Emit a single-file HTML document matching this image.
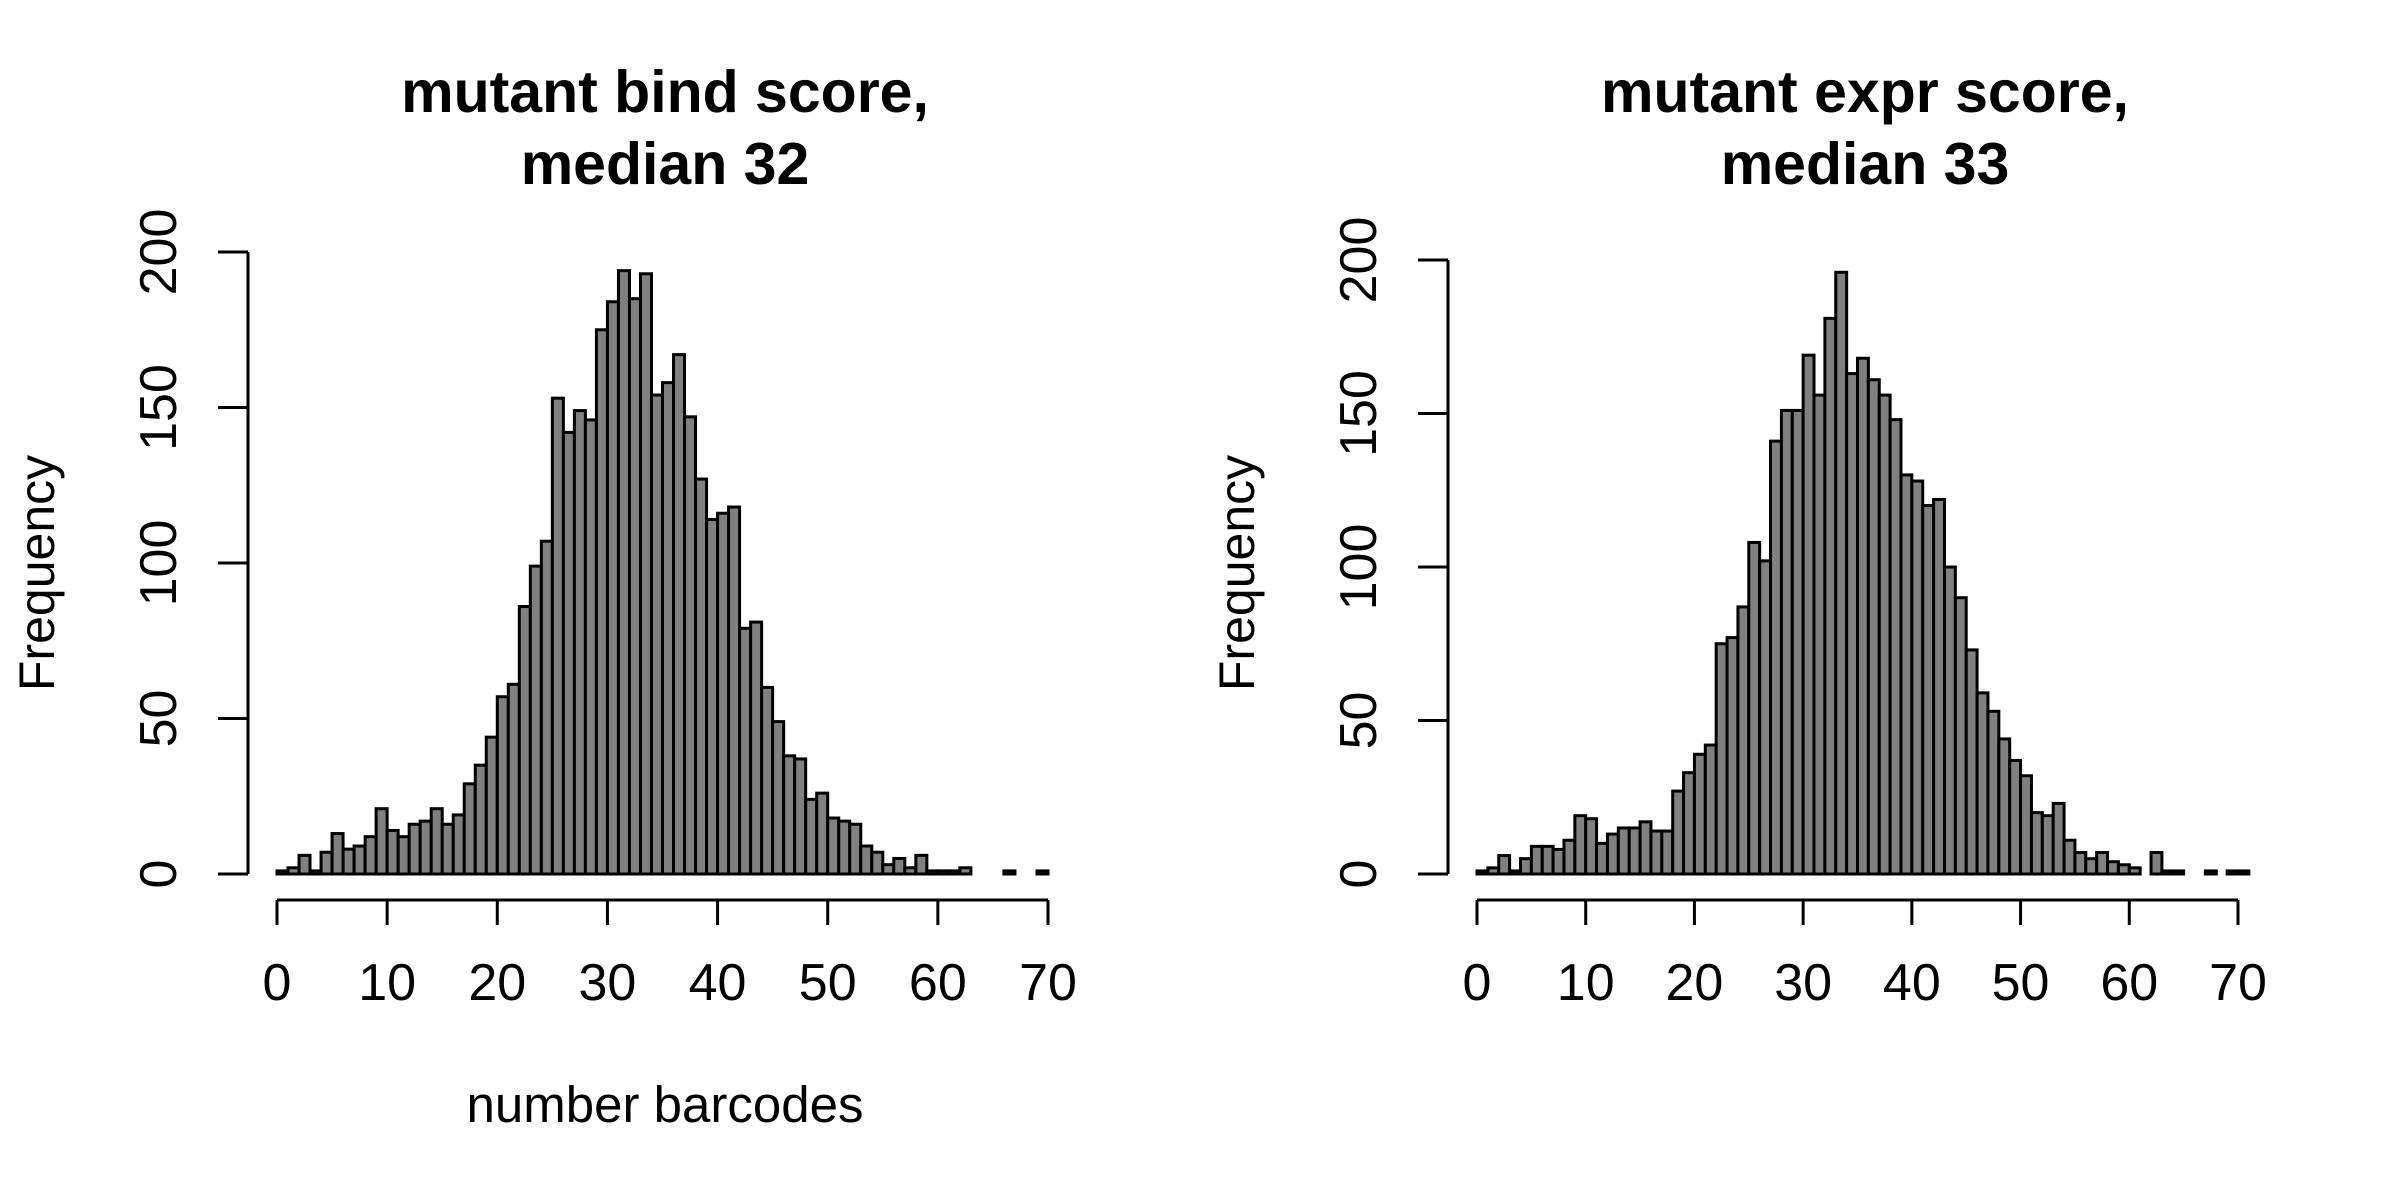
<!DOCTYPE html>
<html><head><meta charset="utf-8"><style>
html,body{margin:0;padding:0;background:#fff;}
svg{display:block;}
text{font-family:"Liberation Sans",Arial,sans-serif;fill:#000;}
</style></head><body>
<svg id="chart" width="2400" height="1200" viewBox="0 0 2400 1200"></svg>
<script>
const bindCounts=[1,2,6,1,7,13,8,9,12,21,14,12,16,17,21,16,19,29,35,44,57,61,86,99,107,153,142,149,146,175,184,194,185,193,154,158,167,147,127,114,116,118,79,81,60,49,38,37,24,26,18,17,16,9,7,3,5,2,6,1,1,1,2,0,0,0,1,0,0,1];
const exprCounts=[1,2,6,1,5,9,9,8,11,19,18,10,13,15,15,17,14,14,27,33,39,42,75,77,87,108,102,141,151,151,169,156,181,196,163,168,161,156,148,130,128,120,122,100,90,73,59,53,44,37,32,20,19,23,11,7,5,7,4,3,2,0,7,1,1,0,0,1,0,1,1];
const xTicks=[0,10,20,30,40,50,60,70];
const yTicks=[0,50,100,150,200];
const titlesLine1=["mutant bind score,","mutant expr score,"];
const titlesLine2=["median 32","median 33"];

const NS="http://www.w3.org/2000/svg";
const svg=document.getElementById('chart');
function mk(tag,attrs,parent){const e=document.createElementNS(NS,tag);for(const k in attrs)e.setAttribute(k,attrs[k]);(parent||svg).appendChild(e);return e;}

const panels=[
 {off:0,counts:bindCounts,xmax:70,y0:874,y200:252,xlab:true,x70:1048},
 {off:1200,counts:exprCounts,xmax:71,y0:874,y200:260,xlab:false,x70:1038}
];
panels.forEach((p,pi)=>{
  const g=mk('g',{});
  
  
  const x0=p.off+277;
  const ux=(p.x70-277)/70;
  const xs=v=>x0+v*ux;
  const ys=v=>p.y0-(p.y0-p.y200)*v/200;
  p.counts.forEach((c,i)=>{
    const r=mk('rect',{x:xs(i),y:ys(c),width:ux,height:p.y0-ys(c),fill:'#808080',stroke:'#000','stroke-width':3},g);
    
    
  });
  const yax=mk('g',{},g);
  
  
  const ax=p.off+248;
  mk('line',{x1:ax,x2:ax,y1:ys(0),y2:ys(200),stroke:'#000','stroke-width':3},yax);
  yTicks.forEach(t=>{
    mk('line',{x1:ax-30,x2:ax,y1:ys(t),y2:ys(t),stroke:'#000','stroke-width':3},yax);
    const tx=mk('text',{x:0,y:0,'font-size':52,'text-anchor':'middle',transform:`translate(${p.off+176},${ys(t)}) rotate(-90)`},yax);
    tx.textContent=t;
    
    
  });
  const xax=mk('g',{},g);
  
  
  mk('line',{x1:xs(0),x2:xs(70),y1:900,y2:900,stroke:'#000','stroke-width':3},xax);
  xTicks.forEach(t=>{
    mk('line',{x1:xs(t),x2:xs(t),y1:900,y2:925,stroke:'#000','stroke-width':3},xax);
    const tx=mk('text',{x:xs(t),y:1000,'font-size':52,'text-anchor':'middle'},xax);
    tx.textContent=t;
    
    
  });
  const t1=mk('text',{x:p.off+665,y:112,'font-size':59,'font-weight':'bold','text-anchor':'middle'},g);
  t1.textContent=titlesLine1[pi];
  
  
  const t2=mk('text',{x:p.off+665,y:184,'font-size':59,'font-weight':'bold','text-anchor':'middle'},g);
  t2.textContent=titlesLine2[pi];
  
  
  const yl=mk('text',{x:0,y:0,'font-size':50,'text-anchor':'middle',transform:`translate(${p.off+54},${573}) rotate(-90)`},g);
  yl.textContent='Frequency';
  
  
  if(p.xlab){
    const xl=mk('text',{x:p.off+665,y:1122,'font-size':51,'text-anchor':'middle'},g);
    xl.textContent='number barcodes';
    
    
  }
});
</script>
</body></html>
